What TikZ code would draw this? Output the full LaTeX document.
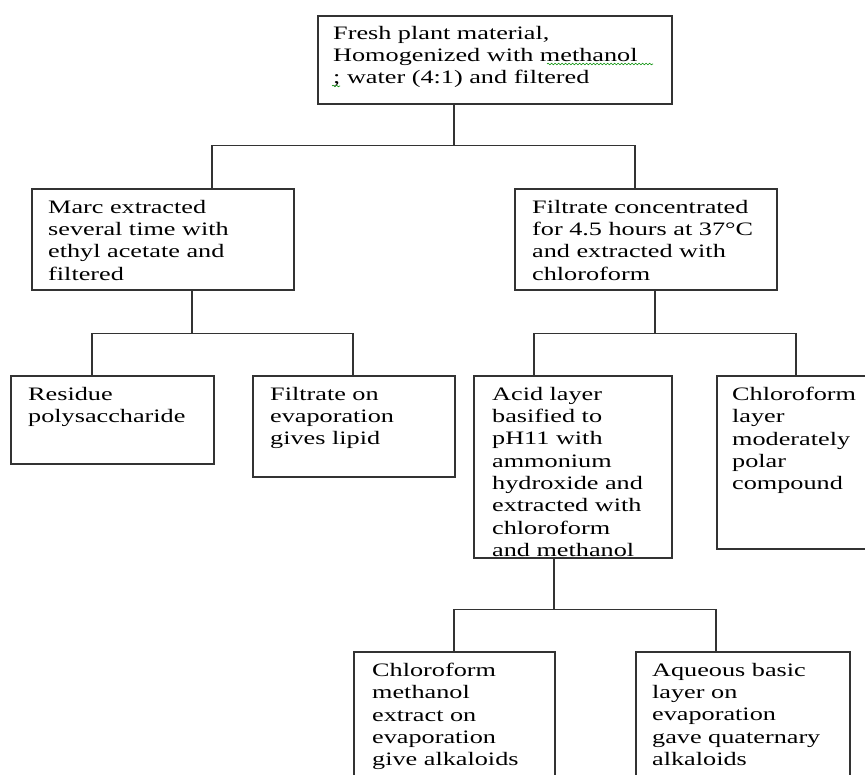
\documentclass[tikz,border=0pt]{standalone}
\usepackage{fontspec}
\setmainfont{Liberation Serif}[FakeStretch=1.38]
\usetikzlibrary{decorations.pathmorphing}
\begin{document}
\begin{tikzpicture}[x=1pt, y=-1pt,
    box/.style={draw=black!80, line width=1.6pt, anchor=north west, inner sep=0pt},
    txt/.style={anchor=north west, align=left, inner sep=0pt,
      font=\fontsize{19}{22.3}\selectfont},
    link/.style={draw=black!80, line width=1.6pt},
    squiggle/.style={draw=green!55!black, line width=0.6pt, decorate,
      decoration={snake, amplitude=0.8pt, segment length=3.5pt}},
  ]
  \useasboundingbox (0,0) rectangle (865,774);
  % boxes
  \node[box, minimum width=354pt, minimum height=88pt] (fresh) at (317,15) {};
  \node[box, minimum width=262pt, minimum height=101pt] (marc) at (31,188) {};
  \node[box, minimum width=262pt, minimum height=101pt] (filt) at (514,188) {};
  \node[box, minimum width=203pt, minimum height=88pt] (resid) at (10,375) {};
  \node[box, minimum width=202pt, minimum height=101pt] (fon) at (252,375) {};
  \node[box, minimum width=198pt, minimum height=182pt] (acid) at (473,375) {};
  \node[box, minimum width=165pt, minimum height=173pt] (chlor) at (716,375) {};
  \node[box, minimum width=201pt, minimum height=140pt] (cme) at (353,651) {};
  \node[box, minimum width=214pt, minimum height=140pt] (aq) at (635,651) {};
  % texts
  \node[txt] (fresh-t) at ([shift={(16pt,-11pt)}]fresh.north west)
    {Fresh plant material,\\ Homogenized with methanol\\ ; water (4:1) and filtered};
  \node[txt] (marc-t) at ([shift={(17pt,-12pt)}]marc.north west)
    {Marc extracted\\ several time with\\ ethyl acetate and\\ filtered};
  \node[txt] (filt-t) at ([shift={(18pt,-12pt)}]filt.north west)
    {Filtrate concentrated\\ for 4.5 hours at 37°C\\ and extracted with\\ chloroform};
  \node[txt] (resid-t) at ([shift={(18pt,-12pt)}]resid.north west)
    {Residue\\ polysaccharide};
  \node[txt] (fon-t) at ([shift={(18pt,-12pt)}]fon.north west)
    {Filtrate on\\ evaporation\\ gives lipid};
  \node[txt] (acid-t) at ([shift={(19pt,-12pt)}]acid.north west)
    {Acid layer\\ basified to\\ pH11 with\\ ammonium\\ hydroxide and\\ extracted with\\ chloroform\\ and methanol};
  \node[txt] (chlor-t) at ([shift={(16pt,-12pt)}]chlor.north west)
    {Chloroform\\ layer\\ moderately\\ polar\\ compound};
  \node[txt] (cme-t) at ([shift={(19pt,-12pt)}]cme.north west)
    {Chloroform\\ methanol\\ extract on\\ evaporation\\ give alkaloids};
  \node[txt] (aq-t) at ([shift={(17pt,-12pt)}]aq.north west)
    {Aqueous basic\\ layer on\\ evaporation\\ gave quaternary\\ alkaloids};
  % spelling marks
  \draw[squiggle] (547,64) -- (653,64);
  \draw[squiggle] (332,86) -- (340,86);
  % connectors
  \draw[link] ([xshift=137pt]fresh.south west) -- ++(0,41) coordinate (j1);
  \draw[link] ([xshift=181pt]marc.north west) |- (j1) -| ([xshift=121pt]filt.north west);
  \draw[link] ([xshift=161pt]marc.south west) -- ++(0,43) coordinate (j2);
  \draw[link] ([xshift=82pt]resid.north west) |- (j2) -| ([xshift=101pt]fon.north west);
  \draw[link] ([xshift=141pt]filt.south west) -- ++(0,43) coordinate (j3);
  \draw[link] ([xshift=61pt]acid.north west) |- (j3) -| ([xshift=80pt]chlor.north west);
  \draw[link] ([xshift=81pt]acid.south west) -- ++(0,51) coordinate (j4);
  \draw[link] ([xshift=101pt]cme.north west) |- (j4) -| ([xshift=81pt]aq.north west);
\end{tikzpicture}
\end{document}
